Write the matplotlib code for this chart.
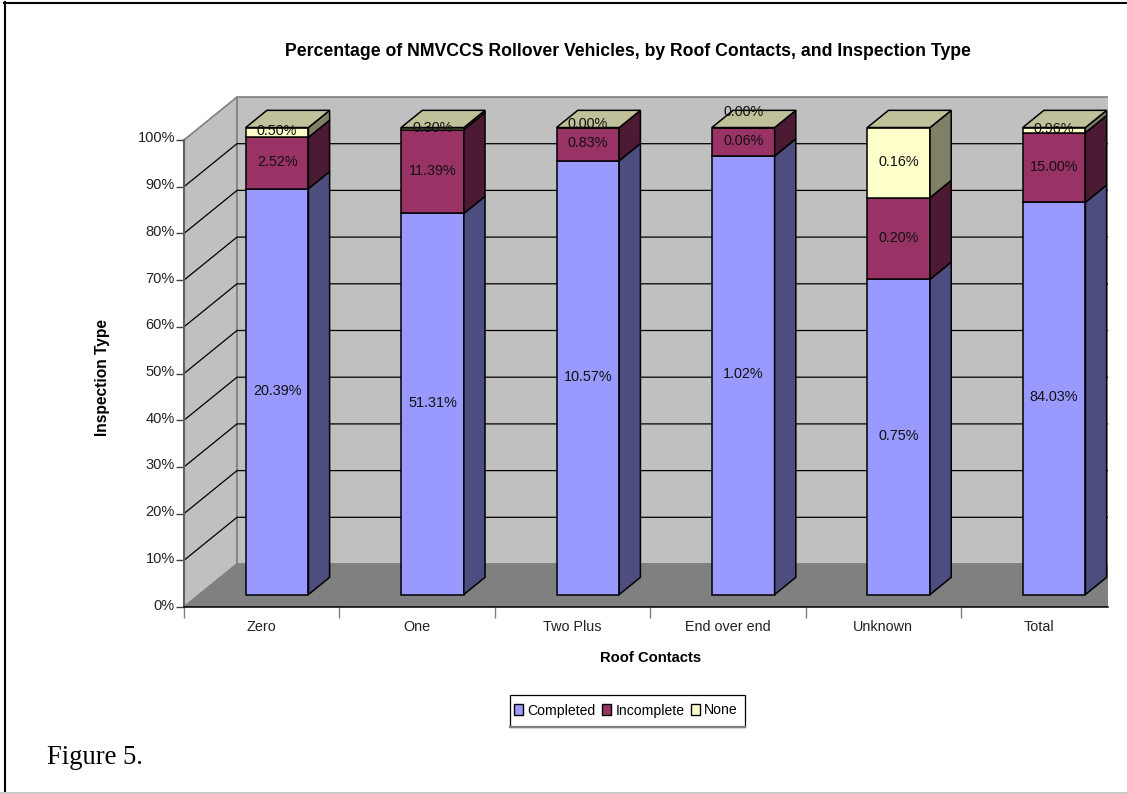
import matplotlib
matplotlib.use('Agg')
import matplotlib.pyplot as plt
from matplotlib.patches import Polygon, Patch, Rectangle
from matplotlib.lines import Line2D
from matplotlib.transforms import ScaledTranslation

W, H = 1127, 794

categories = ['Zero', 'One', 'Two Plus', 'End over end', 'Unknown', 'Total']
# printed labels
completed = [20.39, 51.31, 10.57, 1.02, 0.75, 84.03]
incomplete = [2.52, 11.39, 0.83, 0.06, 0.20, 15.00]
none_done = [0.50, 0.30, 0.00, 0.00, 0.16, 0.96]
# segment heights, percent of each bar
completed_share = [86.9, 81.6, 92.9, 93.9, 67.5, 84.0]
incomplete_share = [11.0, 17.9, 7.1, 6.1, 17.5, 14.9]
none_share = [2.1, 0.5, 0.0, 0.0, 15.0, 1.1]
y_ticks = [0, 10, 20, 30, 40, 50, 60, 70, 80, 90, 100]

plt.rcParams['font.family'] = ['Liberation Sans', 'DejaVu Sans']

fig = plt.figure(figsize=(W / 100, H / 100), dpi=100)

# axes in pixels: 0% at y=607, 100% at y=140, one category = 155.4 px, cut at x=1108
x0, x1, y0, y1 = 184, 1108, 607, 90
ax = fig.add_axes([x0 / W, 1 - y0 / H, (x1 - x0) / W, (y0 - y1) / H])
ax.set_xlim(0, (x1 - x0) / 155.4)
ax.set_ylim(0, (y0 - y1) / 4.67)
ax.patch.set_visible(False)

# oblique depth of the fake 3d box, in data units
dx = 53 / 155.4
dy = 43 / 4.67


def proj(x, y, d):
    return (x + d * dx, y + d * dy)


xr = 7
wall = '#C0C0C0'
edge = '#808080'
ax.add_patch(Polygon([proj(0, 0, 0), proj(0, 100, 0), proj(0, 100, 1), proj(0, 0, 1)],
                     fc=wall, ec=edge, lw=1.2, zorder=1))
ax.add_patch(Polygon([proj(0, 0, 1), proj(0, 100, 1), proj(xr, 100, 1), proj(xr, 0, 1)],
                     fc=wall, ec=edge, lw=1.2, zorder=1))
ax.add_patch(Polygon([proj(0, 0, 0), proj(0, 0, 1), proj(xr, 0, 1), proj(xr, 0, 0)],
                     fc='#808080', ec=edge, lw=1.0, zorder=1))
for t in y_ticks[1:-1]:
    a, b, c = proj(0, t, 0), proj(0, t, 1), proj(xr, t, 1)
    ax.plot([a[0], b[0], c[0]], [a[1], b[1], c[1]], color='black', lw=0.9, zorder=2)

d_front, d_back = 0.29, 0.69
bw = 62.7 / 155.4
series = [completed, incomplete, none_done]
shares = [completed_share, incomplete_share, none_share]
names = ['Completed', 'Incomplete', 'None']
front = ['#9999FF', '#993366', '#FFFFCC']
side = ['#4D4D80', '#4D1A33', '#808066']
top = '#C0C09A'
# the 0.00% labels sit a bit above the bar top in the original
nudge = {'Two Plus': 0.6, 'End over end': 3.2}

for i in range(len(categories)):
    cx = i + 0.5 + d_front * dx
    base = d_front * dy
    bottom = 0
    for k, s in enumerate(series):
        h = shares[k][i]
        ax.bar(cx, h, bw, bottom=base + bottom, color=front[k], edgecolor='black', lw=1.1, zorder=3)
        r = i + 0.5 + bw / 2
        ax.add_patch(Polygon([proj(r, bottom, d_front), proj(r, bottom + h, d_front),
                              proj(r, bottom + h, d_back), proj(r, bottom, d_back)],
                             fc=side[k], ec='black', lw=1.1, zorder=3))
        ly = base + bottom + h / 2 + 0.2
        if k == 2:
            ly = ly + nudge.get(categories[i], 0)
        ax.text(cx, ly, '%.2f%%' % s[i], ha='center', va='center', fontsize=10.4,
                color='#111111', zorder=6)
        bottom += h
    l, r = i + 0.5 - bw / 2, i + 0.5 + bw / 2
    ax.add_patch(Polygon([proj(l, 100, d_front), proj(r, 100, d_front),
                          proj(r, 100, d_back), proj(l, 100, d_back)],
                         fc=top, ec='black', lw=1.1, zorder=4))

for sp in ['top', 'right']:
    ax.spines[sp].set_visible(False)
ax.spines['left'].set_bounds(0, 100)
ax.spines['left'].set_color('#606060')
ax.spines['left'].set_linewidth(1.5)
ax.spines['bottom'].set_color('black')
ax.spines['bottom'].set_linewidth(1.1)
ax.spines['left'].set_zorder(5)
ax.spines['bottom'].set_zorder(5)

ax.set_yticks(y_ticks)
ax.set_yticklabels(['%d%%' % t for t in y_ticks], fontsize=10.5, color='#222222')
ax.tick_params(axis='y', length=6, width=1, color='#404040', pad=0.5)
shift = ScaledTranslation(0, 3 / 100, fig.dpi_scale_trans)
for lab in ax.get_yticklabels():
    lab.set_transform(lab.get_transform() + shift)
ax.set_xticks(range(len(categories)))
ax.set_xticklabels([])
ax.set_xticks([i + 0.5 for i in range(len(categories))], minor=True)
ax.set_xticklabels(categories, minor=True, fontsize=10.4, color='#222222')
ax.tick_params(axis='x', which='major', length=8, width=1, color='#808080')
ax.tick_params(axis='x', which='minor', length=0, pad=9.5)

fig.text(628 / W, 1 - 51 / H, 'Percentage of NMVCCS Rollover Vehicles, by Roof Contacts, and Inspection Type',
         ha='center', va='center', fontsize=12.7, fontweight='bold')
fig.text(650.5 / W, 1 - 658 / H, 'Roof Contacts', ha='center', va='center', fontsize=10.6, fontweight='bold')
fig.text(102 / W, 1 - 377 / H, 'Inspection Type', ha='center', va='center', rotation=90,
         fontsize=11.2, fontweight='bold')
fig.text(47 / W, 1 - 758 / H, 'Figure 5.', ha='left', va='center', fontsize=19.2,
         family=['Liberation Serif', 'DejaVu Serif'])

# legend box is drawn by hand because its padding is uneven
fig.add_artist(Rectangle((510 / W, 1 - 727 / H), 234.5 / W, 32 / H, transform=fig.transFigure,
                         fc='white', ec='black', lw=0.9))
handles = [Patch(fc=front[k], ec='black', lw=1, label=names[k]) for k in range(3)]
leg = fig.legend(handles=handles, ncol=3, loc='center', bbox_to_anchor=(626 / W, 1 - 710.5 / H),
                 fontsize=10.1, frameon=False, handlelength=0.65, handleheight=0.85,
                 handletextpad=0.3, columnspacing=0.45, borderpad=0, borderaxespad=0)
leg.set_zorder(5)

# page frame
for xs, ys, c, lw in [([5, 5], [2, 794], 'black', 1.5),
                      ([4, 1127], [2.5, 2.5], 'black', 1.5),
                      ([0, 1127], [793, 793], '#C8C8C8', 1.5),
                      ([510, 745], [727, 727], '#808080', 1.6)]:
    fig.add_artist(Line2D([x / W for x in xs], [1 - y / H for y in ys], color=c, lw=lw))

fig.savefig('out.png', dpi=100)
